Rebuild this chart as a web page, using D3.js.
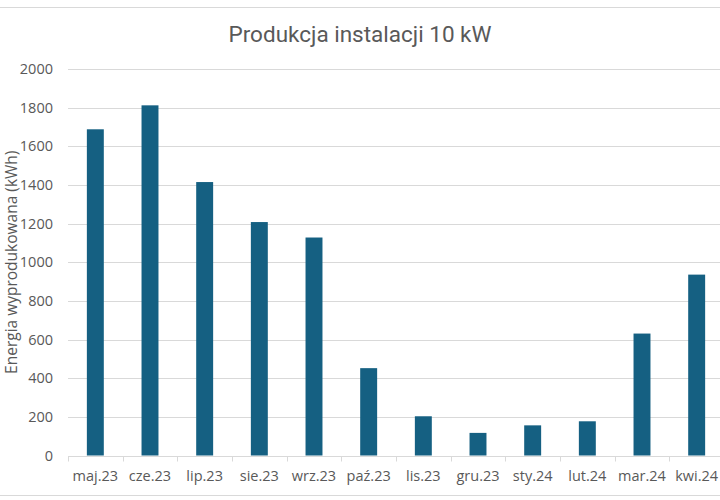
<!DOCTYPE html>
<html>
<head>
<meta charset="utf-8">
<script src="https://cdn.jsdelivr.net/npm/d3@7"></script>
<style>
  body { margin: 0; background: #fff; }
  svg { display: block; font-family: "Open Sans", "Noto Sans", sans-serif; }
</style>
</head>
<body>
<div id="chart"></div>
<script>
// --- Data ---
const months = ["maj.23", "cze.23", "lip.23", "sie.23", "wrz.23", "paź.23",
                "lis.23", "gru.23", "sty.24", "lut.24", "mar.24", "kwi.24"];
const energy = [1688, 1812, 1415, 1208, 1128, 452, 203, 117, 156, 177, 631, 936];
const yTicks = [0, 200, 400, 600, 800, 1000, 1200, 1400, 1600, 1800, 2000];

const chartTitle = "Produkcja instalacji 10 kW";
const yTitle = "Energia wyprodukowana (kWh)";

// --- Layout ---
const W = 720, H = 500;
const margin = { top: 69, right: -4, bottom: 44.5, left: 68 };
const width = W - margin.left - margin.right,
      height = H - margin.top - margin.bottom;

const svg = d3.select("#chart").append("svg")
    .attr("width", W)
    .attr("height", H);

// chart area border (only top and bottom visible in the crop)
svg.append("line").attr("x1", 0).attr("x2", W).attr("y1", 7.5).attr("y2", 7.5)
    .attr("stroke", "#d9d9d9");
svg.append("line").attr("x1", 0).attr("x2", W).attr("y1", 495.5).attr("y2", 495.5)
    .attr("stroke", "#d9d9d9");

const g = svg.append("g")
    .attr("transform", `translate(${margin.left},${margin.top})`);

// Scales
const x = d3.scaleBand()
    .domain(months)
    .range([0, width])
    .paddingInner(0.69)
    .paddingOuter(0.345);

const band = d3.scaleBand().domain(months).range([0, width]);

const y = d3.scaleLinear()
    .domain([0, 2000])
    .range([height, 0]);

// Gridlines
g.append("g")
    .selectAll("line")
    .data(yTicks.filter(d => d > 0))
    .enter().append("line")
    .attr("x1", 0)
    .attr("x2", width)
    .attr("y1", d => Math.round(y(d)) + 0.5)
    .attr("y2", d => Math.round(y(d)) + 0.5)
    .attr("stroke", "#d9d9d9")
    .attr("stroke-width", 1);

// Y axis labels
const yAxis = g.append("g")
    .attr("transform", "translate(-15,0)")
    .call(d3.axisLeft(y).tickValues(yTicks).tickSize(0).tickPadding(0)
        .tickFormat(d3.format("d")));
yAxis.select(".domain").remove();
yAxis.selectAll("text")
    .attr("fill", "#595959")
    .attr("font-size", "14.5px")
    .attr("font-family", "'Open Sans', sans-serif");

// Bars
g.selectAll("rect.bar")
    .data(energy)
    .enter().append("rect")
    .attr("class", "bar")
    .attr("x", (d, i) => x(months[i]))
    .attr("y", d => y(d))
    .attr("width", x.bandwidth())
    .attr("height", d => height - y(d))
    .attr("fill", "#156082");

// X axis with ticks between categories
const xAxisG = g.append("g")
    .attr("transform", `translate(0,${Math.round(height) + 0.5})`);

xAxisG.append("line")
    .attr("x1", 0).attr("x2", width)
    .attr("stroke", "#d9d9d9");

xAxisG.selectAll("line.tick")
    .data(months.concat(["end"]))
    .enter().append("line")
    .attr("class", "tick")
    .attr("x1", (d, i) => Math.round(i * band.bandwidth()) + 0.5)
    .attr("x2", (d, i) => Math.round(i * band.bandwidth()) + 0.5)
    .attr("y1", 0).attr("y2", 5)
    .attr("stroke", "#d9d9d9");

xAxisG.selectAll("text")
    .data(months)
    .enter().append("text")
    .attr("x", d => band(d) + band.bandwidth() / 2)
    .attr("y", 24)
    .attr("text-anchor", "middle")
    .attr("fill", "#595959")
    .attr("font-size", "14.5px")
    .text(d => d);

// Title
svg.append("text")
    .attr("x", 360)
    .attr("y", 42)
    .attr("text-anchor", "middle")
    .attr("fill", "#595959")
    .attr("font-size", "22.5px")
    .attr("font-family", "Roboto, sans-serif")
    .text(chartTitle);

// Y axis title
svg.append("text")
    .attr("transform", `translate(17,${margin.top + height / 2}) rotate(-90)`)
    .attr("text-anchor", "middle")
    .attr("fill", "#595959")
    .attr("font-size", "15.5px")
    .text(yTitle);
</script>
</body>
</html>
